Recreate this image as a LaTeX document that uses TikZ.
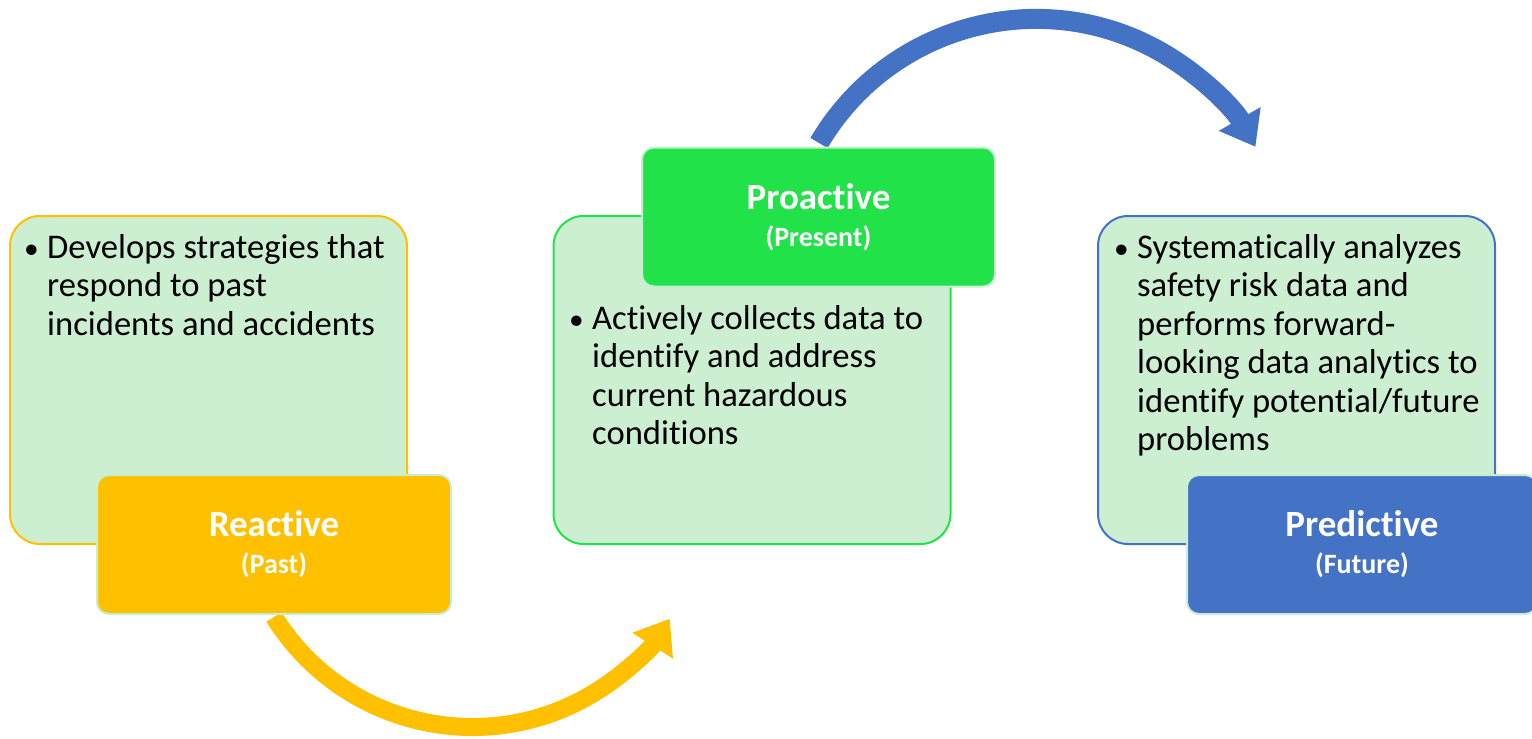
\documentclass[tikz,border=0pt]{standalone}
\usepackage{fontspec}
\setmainfont{Carlito}[Ligatures={NoCommon,NoContextual}]
\usetikzlibrary{arrows.meta}
\definecolor{panelgreen}{RGB}{204,238,209}
\definecolor{reactyellow}{RGB}{255,192,0}
\definecolor{proactgreen}{RGB}{34,226,74}
\definecolor{predictblue}{RGB}{68,114,196}
\definecolor{edgegreen}{RGB}{200,238,207}
\newcommand{\subtag}[1]{{\fontsize{28}{36}\selectfont #1}}
\newcommand{\bulletlines}[1]{\makebox[20pt][l]{\hspace{-3pt}\scalebox{0.85}{\textbullet}}\parbox[t]{370pt}{\raggedright #1}}
\begin{document}
\begin{tikzpicture}[x=1pt,y=-1pt,
panel/.style={fill=panelgreen,line width=2pt,rounded corners=30pt,minimum width=397pt,minimum height=328pt},
tag/.style={draw=edgegreen,line width=2pt,rounded corners=12pt,minimum height=139pt,text=white,align=center,font=\bfseries\fontsize{37}{37}\selectfont},
bodytext/.style={anchor=base west,inner sep=0pt,font=\fontsize{34.6}{38.5}\selectfont},
swoop/.style={-{Triangle[length=32pt,width=46pt]}}]
\useasboundingbox (0,0) rectangle (1532,739);
% arrows
\coordinate (pastfoot) at (274,617);
\coordinate (presenttop) at (819,143);
\draw[swoop,line width=18pt,reactyellow] (pastfoot) arc[start angle=148,end angle=32.5,radius=234];
\draw[swoop,line width=20pt,predictblue] (presenttop) arc[start angle=210.5,end angle=330.5,radius=252];
% panels
\node[panel,draw=reactyellow] (pastpanel) at (208.5,380) {};
\node[panel,draw=proactgreen] (presentpanel) at (752,380) {};
\node[panel,draw=predictblue] (futurepanel) at (1296.5,380) {};
\node[bodytext] (pasttext) at (27,258) {\bulletlines{Develops strategies that\\respond to past\\incidents and accidents}};
\node[bodytext] (presenttext) at (572,329) {\bulletlines{Actively collects data to\\identify and address\\current hazardous\\conditions}};
\node[bodytext] (futuretext) at (1117,258) {\bulletlines{Systematically analyzes\\safety risk data and\\performs forward-\\looking data analytics to\\identify potential/future\\problems}};
% tags
\node[tag,fill=reactyellow,minimum width=354pt] (pasttag) at (274,544.5) {Reactive\\\subtag{(Past)}};
\node[tag,fill=proactgreen,minimum width=353pt] (presenttag) at (818.5,217) {Proactive\\\subtag{(Present)}};
\node[tag,fill=predictblue,minimum width=350pt] (futuretag) at (1362,544.5) {Predictive\\\subtag{(Future)}};
\end{tikzpicture}
\end{document}
